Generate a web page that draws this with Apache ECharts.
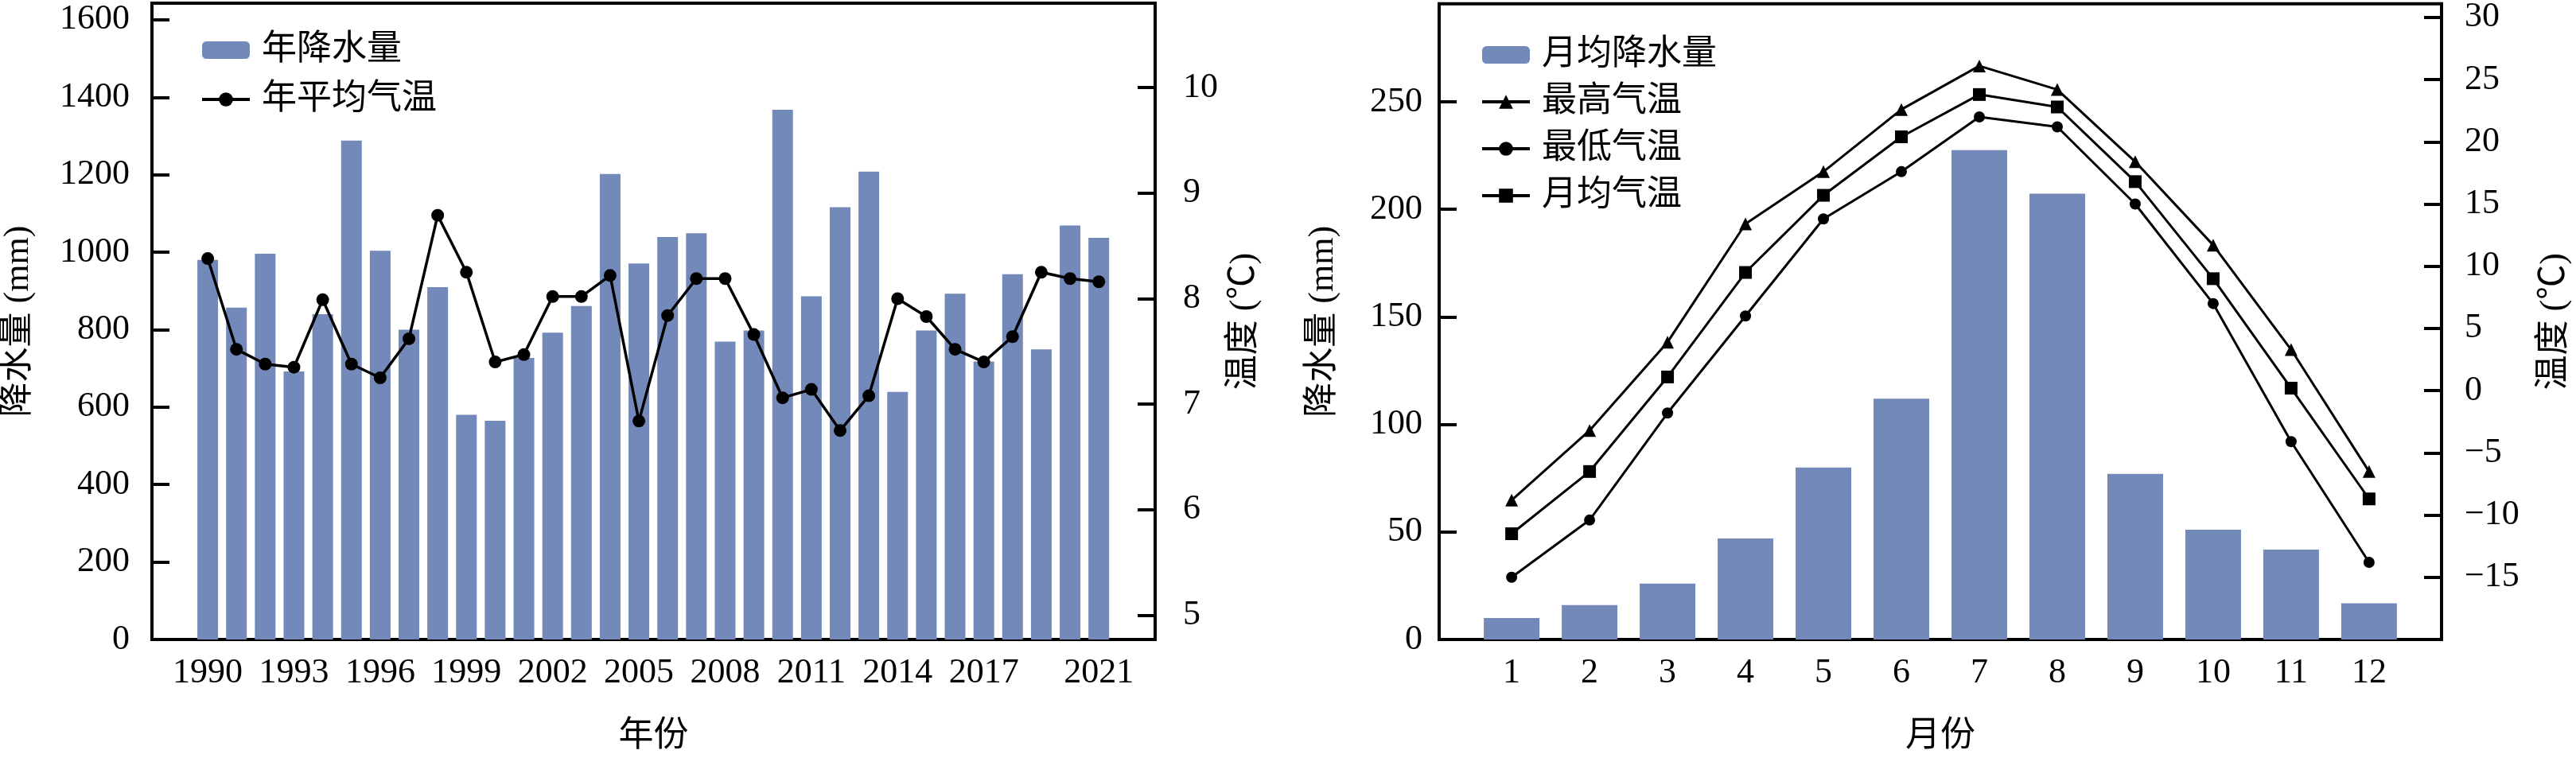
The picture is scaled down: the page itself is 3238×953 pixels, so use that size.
<!DOCTYPE html>
<html>
<head>
<meta charset="utf-8">
<title></title>
<style>
  html, body { margin: 0; padding: 0; background: #fff; }
  #chart { width: 3238px; height: 953px; }
</style>
</head>
<body>
<div id="chart"></div>
<script src="https://cdn.jsdelivr.net/npm/echarts@6/dist/echarts.min.js"></script>
<script>
// 年际数据 1990-2021
var years = [1990, 1991, 1992, 1993, 1994, 1995, 1996, 1997, 1998, 1999, 2000, 2001, 2002, 2003, 2004, 2005,
             2006, 2007, 2008, 2009, 2010, 2011, 2012, 2013, 2014, 2015, 2016, 2017, 2018, 2019, 2020, 2021];
var yearRain = [980, 857, 996, 692, 840, 1288, 1004, 800, 910, 580, 565, 727, 792, 861, 1202, 971,
                1039, 1049, 769, 798, 1368, 886, 1116, 1208, 639, 798, 893, 718, 943, 749, 1069, 1037];
var yearTemp = [8.38, 7.52, 7.38, 7.35, 7.99, 7.38, 7.25, 7.62, 8.79, 8.25, 7.40, 7.47, 8.02, 8.02, 8.22, 6.84,
                7.84, 8.19, 8.19, 7.66, 7.06, 7.14, 6.75, 7.08, 8.00, 7.83, 7.52, 7.40, 7.64, 8.25, 8.19, 8.16];
var yearTicks = [1990, 1993, 1996, 1999, 2002, 2005, 2008, 2011, 2014, 2017, 2021];
var rainTicks = [0, 200, 400, 600, 800, 1000, 1200, 1400, 1600];
var tempTicks = [5, 6, 7, 8, 9, 10];

// 月均数据
var months = [1, 2, 3, 4, 5, 6, 7, 8, 9, 10, 11, 12];
var monthRain = [10, 16, 26, 47, 80, 112, 227.5, 207.3, 77, 51, 41.8, 16.8];
var monthMax = [-8.8, -3.2, 3.9, 13.4, 17.6, 22.6, 26.1, 24.2, 18.4, 11.7, 3.3, -6.5];
var monthMin = [-15.0, -10.4, -1.8, 6.0, 13.8, 17.6, 22.0, 21.2, 15.0, 7.0, -4.1, -13.8];
var monthMean = [-11.5, -6.5, 1.1, 9.5, 15.7, 20.4, 23.8, 22.8, 16.8, 9.0, 0.2, -8.7];
var mRainTicks = [0, 50, 100, 150, 200, 250];
var mTempTicks = [-15, -10, -5, 0, 5, 10, 15, 20, 25, 30];

function pairs(xs, ys) {
  return xs.map(function (x, i) { return [x, ys[i]]; });
}

var FONT = '"Liberation Serif", "Times New Roman", "Noto Sans CJK SC", serif';
var BAR = '#7389ba';
var txt = { color: '#000', fontFamily: FONT, fontSize: 44 };
var legendTxt = { color: '#000', fontFamily: FONT, fontSize: 44, padding: [0, 0, 0, 10] };

function fmt(v) {
  return v < 0 ? '\u2212' + (-v) : String(v);
}

function axisCommon(ticks, margin, tickLen) {
  return {
    axisLine: { show: true, onZero: false, lineStyle: { color: '#000', width: 4 } },
    axisTick: { show: true, inside: true, length: tickLen, customValues: ticks, lineStyle: { color: '#000', width: 4 } },
    axisLabel: { customValues: ticks, margin: margin, formatter: fmt, color: '#000', fontFamily: FONT, fontSize: 44 },
    splitLine: { show: false },
    nameLocation: 'middle',
    nameTextStyle: txt
  };
}

function ext(a, b) {
  for (var k in b) a[k] = b[k];
  return a;
}

var option = {
  backgroundColor: '#fff',
  animation: false,
  grid: [
    { left: 191, right: 1786, top: 4, bottom: 143, show: true, borderColor: '#000', borderWidth: 4 },
    { left: 1809, right: 169, top: 4, bottom: 143, show: true, borderColor: '#000', borderWidth: 4 }
  ],
  legend: [
    {
      data: ['年降水量', '年平均气温'],
      orient: 'vertical', left: 247, top: 36, itemWidth: 60, itemHeight: 22, itemGap: 18,
      lineStyle: { width: 4 },
      textStyle: legendTxt
    },
    {
      data: ['月均降水量', '最高气温', '最低气温', '月均气温'],
      orient: 'vertical', left: 1856, top: 42, itemWidth: 60, itemHeight: 22, itemGap: 15,
      lineStyle: { width: 4 },
      textStyle: legendTxt
    }
  ],
  xAxis: [
    ext(axisCommon(yearTicks, 20, 16), {
      type: 'value', gridIndex: 0, min: 1988.06, max: 2022.96,
      name: '年份', nameGap: 100
    }),
    ext(axisCommon(months, 20, 20), {
      type: 'value', gridIndex: 1, min: 0.07, max: 12.93,
      name: '月份', nameGap: 100
    })
  ],
  yAxis: [
    ext(axisCommon(rainTicks, 28, 22), {
      type: 'value', gridIndex: 0, min: 0, max: 1643, position: 'left',
      name: '降水量 (mm)', nameGap: 146, nameRotate: 90
    }),
    ext(axisCommon(tempTicks, 35, 22), {
      type: 'value', gridIndex: 0, min: 4.77, max: 10.8, position: 'right',
      name: '温度 (℃)', nameGap: 90, nameRotate: 90
    }),
    ext(axisCommon(mRainTicks, 21, 22), {
      type: 'value', gridIndex: 1, min: 0, max: 295.6, position: 'left',
      name: '降水量 (mm)', nameGap: 124, nameRotate: 90
    }),
    ext(axisCommon(mTempTicks, 29, 22), {
      type: 'value', gridIndex: 1, min: -20, max: 31.1, position: 'right',
      name: '温度 (℃)', nameGap: 120, nameRotate: 90
    })
  ],
  series: [
    {
      name: '年降水量', type: 'bar', xAxisIndex: 0, yAxisIndex: 0,
      barWidth: 26, itemStyle: { color: BAR },
      data: pairs(years, yearRain)
    },
    {
      name: '年平均气温', type: 'line', xAxisIndex: 0, yAxisIndex: 1,
      symbol: 'circle', symbolSize: 16, z: 5,
      itemStyle: { color: '#000' }, lineStyle: { color: '#000', width: 3.5 },
      data: pairs(years, yearTemp)
    },
    {
      name: '月均降水量', type: 'bar', xAxisIndex: 1, yAxisIndex: 2,
      barWidth: 70, itemStyle: { color: BAR },
      data: pairs(months, monthRain)
    },
    {
      name: '最高气温', type: 'line', xAxisIndex: 1, yAxisIndex: 3,
      symbol: 'triangle', symbolSize: 16, z: 5,
      itemStyle: { color: '#000' }, lineStyle: { color: '#000', width: 3 },
      data: pairs(months, monthMax)
    },
    {
      name: '最低气温', type: 'line', xAxisIndex: 1, yAxisIndex: 3,
      symbol: 'circle', symbolSize: 14, z: 5,
      itemStyle: { color: '#000' }, lineStyle: { color: '#000', width: 3 },
      data: pairs(months, monthMin)
    },
    {
      name: '月均气温', type: 'line', xAxisIndex: 1, yAxisIndex: 3,
      symbol: 'rect', symbolSize: 16, z: 5,
      itemStyle: { color: '#000' }, lineStyle: { color: '#000', width: 3 },
      data: pairs(months, monthMean)
    }
  ]
};

var chart = echarts.init(document.getElementById('chart'));
chart.setOption(option);

window.onresize = function () {
  chart.resize();
};
</script>
</body>
</html>
